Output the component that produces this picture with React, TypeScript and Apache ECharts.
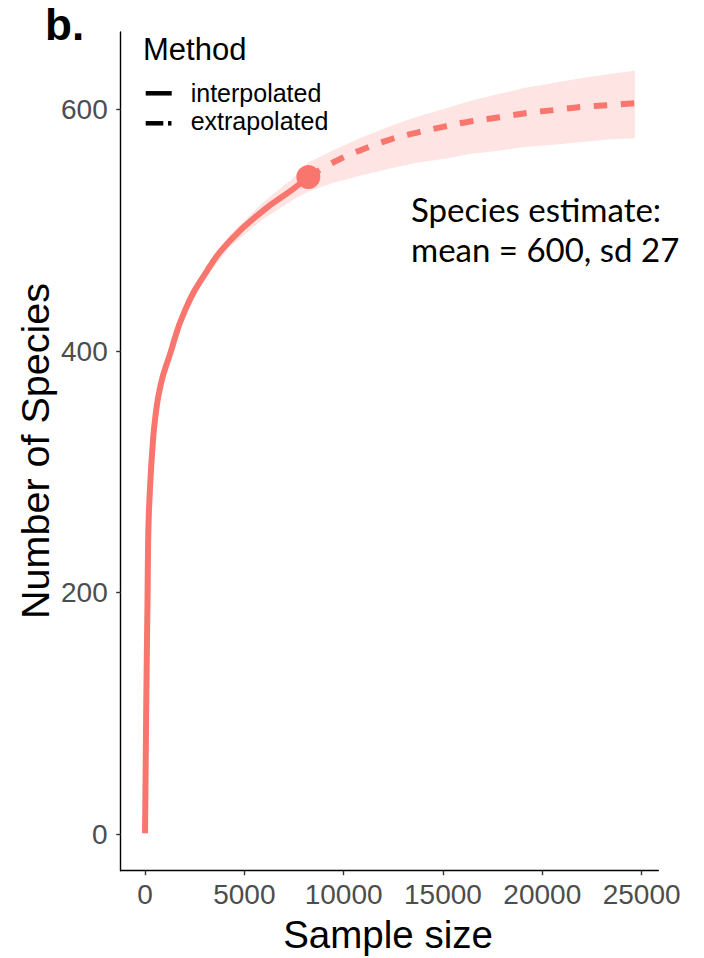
import React, { useEffect, useRef } from "react";
import * as echarts from "echarts";

// Rarefaction / extrapolation curve: observed (interpolated) part
const interpSize = [1, 40, 80, 126, 150, 185, 262, 363, 515, 800, 1230, 1995, 3106, 4267, 5934, 7449, 8220];
const interpMean = [1, 70, 135, 195, 235, 262, 290, 317, 345, 373, 396, 433, 466, 491, 516, 534, 544];
const interpLower = [1, 69, 134, 194, 234, 261, 289, 316, 344, 371, 394, 430, 462, 486, 509, 525, 532];
const interpUpper = [1, 71, 136, 196, 236, 263, 291, 318, 346, 375, 398, 436, 470, 496, 523, 543, 556];

// Extrapolated part, from the observed sample size onwards
const extrapSize = [8220, 9462, 10821, 12331, 13740, 14998, 16357, 17867, 19226, 20635, 21994, 23303, 24660];
const extrapMean = [544, 556, 566, 575, 581, 585.5, 590, 593.5, 597, 599.5, 602, 603.5, 605];
const extrapLower = [532, 539, 545, 551, 556, 559, 563, 566, 569, 571, 573, 575, 576];
const extrapUpper = [556, 566, 576, 586, 594, 600, 607, 613, 618, 622, 626, 629, 632];

// Observed reference sample
const observedSize = 8220;
const observedSpecies = 544;

const xTicks = [0, 5000, 10000, 15000, 20000, 25000];
const yTicks = [0, 200, 400, 600];

const RED = "#F8766D";
const SANS = "'Liberation Sans', Arial, sans-serif";

export default function App() {
  const ref = useRef<HTMLDivElement>(null);

  useEffect(() => {
    if (!ref.current) return;
    const chart = echarts.init(ref.current, undefined, { renderer: "svg" });

    const bandSize = [...interpSize, ...extrapSize.slice(1)];
    const bandLower = [...interpLower, ...extrapLower.slice(1)];
    const bandUpper = [...interpUpper, ...extrapUpper.slice(1)];
    const bandData = bandSize.map((x, i) => [x, bandLower[i], bandUpper[i]]);

    const interpData = interpSize.map((x, i) => [x, interpMean[i]]);
    const extrapData = extrapSize.map((x, i) => [x, extrapMean[i]]);

    const axisCommon = {
      type: "value" as const,
      splitLine: { show: false },
      axisLine: { show: true, onZero: false, lineStyle: { color: "#000", width: 1.4 } },
      axisLabel: {
        color: "#4d4d4d",
        fontSize: 28,
        fontFamily: SANS,
        formatter: (v: number) => String(v),
      },
    };

    // Confidence band drawn as one polygon: lower edge forwards, upper edge back
    const renderBand = (params: any, api: any) => {
      if (params.dataIndexInside !== 0) return null;
      const n = params.dataInsideLength;
      const lower: number[][] = [];
      const upper: number[][] = [];
      for (let i = 0; i < n; i++) {
        const x = api.value(0, i);
        lower.push(api.coord([x, api.value(1, i)]));
        upper.push(api.coord([x, api.value(2, i)]));
      }
      return {
        type: "polygon",
        shape: { points: [...lower, ...upper.reverse()] },
        style: { fill: RED, opacity: 0.2 },
        silent: true,
      };
    };

    chart.setOption({
      animation: false,
      backgroundColor: "#ffffff",
      grid: { left: 120.7, right: 45.7, top: 32, bottom: 87.3, containLabel: false },
      xAxis: {
        ...axisCommon,
        min: -1225,
        max: 25840,
        axisTick: { show: true, length: 4.5, lineStyle: { color: "#333", width: 1.4 }, customValues: xTicks },
        axisLabel: { ...axisCommon.axisLabel, customValues: xTicks, margin: 10 },
      },
      yAxis: {
        ...axisCommon,
        min: -30,
        max: 664,
        axisTick: { show: true, length: 4.5, lineStyle: { color: "#333", width: 1.4 }, customValues: yTicks },
        axisLabel: { ...axisCommon.axisLabel, customValues: yTicks, margin: 13 },
      },
      series: [
        {
          type: "custom",
          data: bandData,
          encode: { x: 0, y: [1, 2] },
          renderItem: renderBand,
          silent: true,
          z: 1,
        },
        {
          type: "line",
          data: interpData,
          symbol: "none",
          smooth: 0.5,
          lineStyle: { color: RED, width: 6, cap: "butt", join: "round" },
          silent: true,
          z: 2,
        },
        {
          type: "line",
          data: extrapData,
          symbol: "none",
          smooth: 0.4,
          lineStyle: { color: RED, width: 6, type: [13.5, 13.5], cap: "butt" },
          silent: true,
          z: 2,
        },
        {
          type: "scatter",
          data: [[observedSize, observedSpecies]],
          symbolSize: 24,
          itemStyle: { color: RED, opacity: 1 },
          silent: true,
          z: 5,
        },
      ],
      graphic: [
        {
          type: "text",
          x: 45,
          y: 24.6,
          style: { text: "b.", fontSize: 44, fontWeight: "bold", fontFamily: SANS, fill: "#000", align: "left", verticalAlign: "middle" },
        },
        {
          type: "text",
          x: 143,
          y: 49,
          style: { text: "Method", fontSize: 31, fontFamily: SANS, fill: "#000", align: "left", verticalAlign: "middle" },
        },
        {
          type: "line",
          shape: { x1: 145.7, y1: 93.3, x2: 171.7, y2: 93.3 },
          style: { stroke: "#000", lineWidth: 4.5 },
        },
        {
          type: "line",
          shape: { x1: 145.7, y1: 123.3, x2: 163.3, y2: 123.3 },
          style: { stroke: "#000", lineWidth: 4.5 },
        },
        {
          type: "line",
          shape: { x1: 168, y1: 123.3, x2: 171.5, y2: 123.3 },
          style: { stroke: "#000", lineWidth: 4.5 },
        },
        {
          type: "text",
          x: 190.7,
          y: 92.6,
          style: { text: "interpolated", fontSize: 25, fontFamily: SANS, fill: "#000", align: "left", verticalAlign: "middle" },
        },
        {
          type: "text",
          x: 190.7,
          y: 121.3,
          style: { text: "extrapolated", fontSize: 25, fontFamily: SANS, fill: "#000", align: "left", verticalAlign: "middle" },
        },
        {
          type: "text",
          x: 411,
          y: 209,
          style: { text: "Species estimate:", fontSize: 33, fontFamily: "Lato, sans-serif", fill: "#000", align: "left", verticalAlign: "middle" },
        },
        {
          type: "text",
          x: 411,
          y: 249,
          style: { text: "mean = 600, sd 27", fontSize: 33, fontFamily: "Lato, sans-serif", fill: "#000", align: "left", verticalAlign: "middle" },
        },
        {
          type: "text",
          x: 388,
          y: 934,
          style: { text: "Sample size", fontSize: 38.5, fontFamily: SANS, fill: "#000", align: "center", verticalAlign: "middle" },
        },
        {
          type: "text",
          x: 35,
          y: 451,
          rotation: Math.PI / 2,
          style: { text: "Number of Species", fontSize: 39.5, fontFamily: SANS, fill: "#000", align: "center", verticalAlign: "middle" },
        },
      ],
    });

    return () => chart.dispose();
  }, []);

  return (
    <div
      ref={ref}
      style={{ position: "fixed", left: 0, top: 0, width: 704, height: 958, background: "#fff" }}
    />
  );
}
